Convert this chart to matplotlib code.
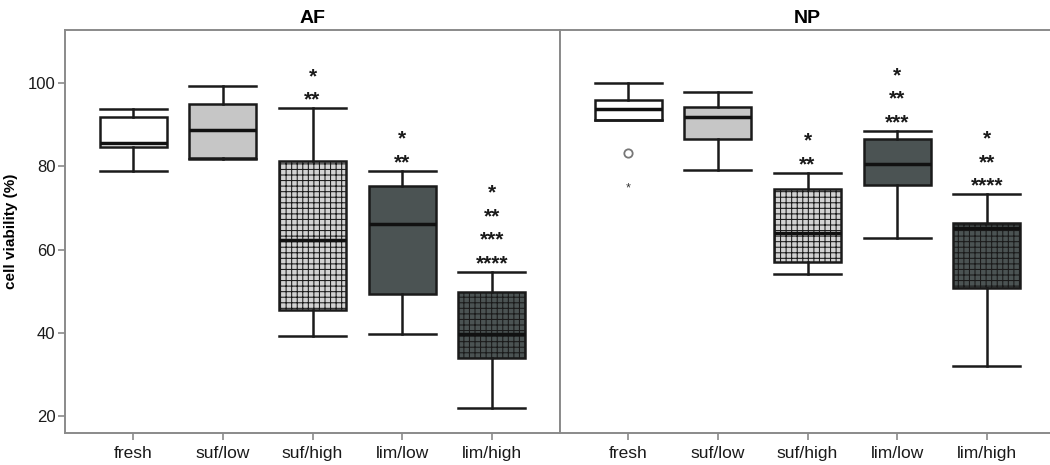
import matplotlib
matplotlib.use("Agg")
import matplotlib.pyplot as plt

plt.rcParams['font.family'] = ['Liberation Sans', 'DejaVu Sans']
plt.rcParams['hatch.linewidth'] = 0.75

# groups on the x axis
groups = ['fresh', 'suf/low', 'suf/high', 'lim/low', 'lim/high']

# AF box stats (cell viability %)
af_whislo = [78.8, 81.7, 39.2, 39.6, 21.8]
af_q1 = [84.6, 82.0, 45.5, 49.4, 33.9]
af_med = [85.7, 88.8, 62.3, 66.1, 39.7]
af_q3 = [91.8, 95.0, 81.2, 75.3, 49.8]
af_whishi = [93.8, 99.4, 94.0, 78.9, 54.6]
af_stars = [[], [], ['**', '*'], ['**', '*'], ['****', '***', '**', '*']]

# NP box stats
np_whislo = [91.1, 79.2, 54.2, 62.8, 31.9]
np_q1 = [91.1, 86.7, 57.1, 75.6, 50.7]
np_med = [93.8, 92.0, 63.9, 80.6, 65.1]
np_q3 = [96.0, 94.4, 74.5, 86.6, 66.3]
np_whishi = [100.1, 97.9, 78.4, 88.5, 73.3]
np_stars = [[], [], ['**', '*'], ['***', '**', '*'], ['****', '**', '*']]
np_outliers = [[83.3], [], [], [], []]
np_extremes = [[74.8], [], [], [], []]

fills = ['white', '#c6c6c6', '#d2d2d2', '#4b5353', '#4b5353']
hatches = [None, None, '+++', None, '+++']

fig = plt.figure(figsize=(10.5, 4.65), dpi=100)
ax1 = fig.add_axes([65 / 1050, 1 - 433 / 465, 495 / 1050, 403 / 465])
ax2 = fig.add_axes([560 / 1050, 1 - 433 / 465, 495 / 1050, 403 / 465])


def draw_panel(ax, title, whislo, q1, med, q3, whishi, stars, outliers, extremes):
    stats = []
    for i, g in enumerate(groups):
        stats.append({'label': g, 'whislo': whislo[i], 'q1': q1[i], 'med': med[i],
                      'q3': q3[i], 'whishi': whishi[i], 'fliers': outliers[i]})
    pos = list(range(len(groups)))
    bp = ax.bxp(stats, positions=pos, widths=0.745, patch_artist=True,
                capwidths=0.745,
                boxprops=dict(linewidth=1.8, edgecolor='#1a1a1a'),
                medianprops=dict(color='#111111', linewidth=2.5),
                whiskerprops=dict(color='#1a1a1a', linewidth=1.8),
                capprops=dict(color='#1a1a1a', linewidth=1.8),
                flierprops=dict(marker='o', markersize=6, markerfacecolor='white',
                                markeredgecolor='#777777', markeredgewidth=1.3))
    for patch, fc, h in zip(bp['boxes'], fills, hatches):
        patch.set_facecolor(fc)
        if h:
            patch.set_hatch(h)
    for i in pos:
        for v in extremes[i]:
            ax.text(i, v, '*', ha='center', va='center', fontsize=9, color='#333333')
        for k, s in enumerate(stars[i]):
            ax.text(i, whishi[i] + 0.6 + k * 5.7, s, ha='center', va='baseline',
                    fontsize=15, fontweight='bold', color='#1a1a1a')
    ax.set_xlim(-0.76, 4.76)
    ax.set_ylim(15.9, 112.8)
    ax.set_xticks(pos)
    ax.set_xticklabels(groups, fontsize=12.5, color='#1a1a1a')
    ax.set_title(title, fontsize=14, fontweight='bold', pad=5)
    for sp in ax.spines.values():
        sp.set_color('#8a8a8a')
        sp.set_linewidth(1.4)
    ax.tick_params(axis='x', direction='out', length=5, width=1.2, color='#8a8a8a', pad=4)


draw_panel(ax1, 'AF', af_whislo, af_q1, af_med, af_q3, af_whishi, af_stars,
           [[], [], [], [], []], [[], [], [], [], []])
draw_panel(ax2, 'NP', np_whislo, np_q1, np_med, np_q3, np_whishi, np_stars,
           np_outliers, np_extremes)

ax1.set_yticks([20, 40, 60, 80, 100])
ax1.tick_params(axis='y', direction='out', length=5, width=1.2, color='#8a8a8a',
                labelsize=12, labelcolor='#1a1a1a', pad=2)
ax1.set_ylabel('cell viability (%)', fontsize=11, fontweight='bold')
ax1.yaxis.set_label_coords(-0.095, 0.5)
ax2.set_yticks([])

fig.savefig('out.png', dpi=100)
